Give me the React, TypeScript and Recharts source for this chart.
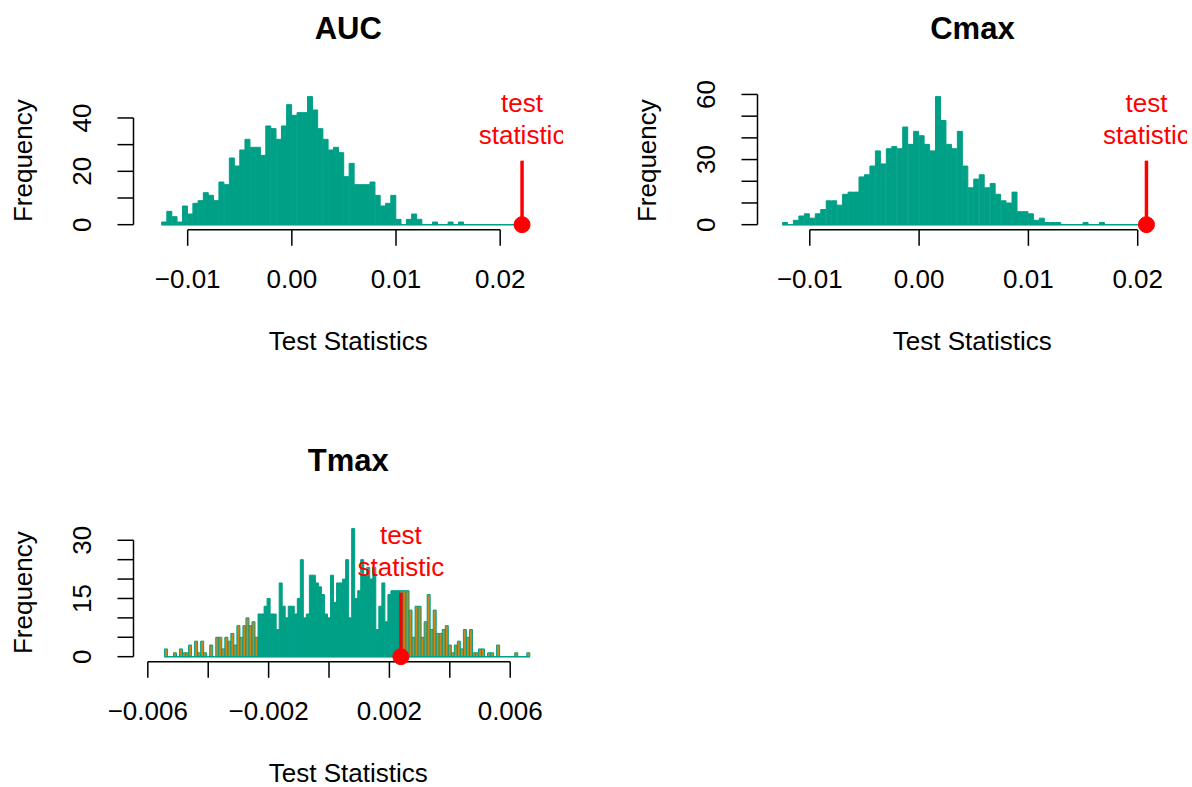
import React from 'react';
import { ComposedChart, Bar, Cell, XAxis, YAxis, ReferenceLine, ReferenceDot } from 'recharts';

const TEAL = '#00A087';
const ORANGE = '#C8861A';
const RED = '#FF0000';
const FONT = '"Liberation Sans", Arial, Helvetica, sans-serif';

// histogram counts, one per bin
const aucCounts = [
  1, 5, 3, 1, 7, 4, 8, 9, 12, 11,
  9, 16, 15, 25, 22, 28, 32, 29, 29, 26,
  37, 36, 32, 37, 45, 41, 42, 42, 48, 43,
  36, 32, 28, 29, 27, 18, 23, 15, 15, 15,
  16, 11, 7, 8, 11, 2, 0, 2, 4, 2,
  0, 0, 1, 0, 0, 1, 0, 1, 0, 0,
  0, 0, 0, 0, 0, 0, 0, 0, 0, 0,
];
const cmaxCounts = [
  1, 0, 2, 4, 5, 3, 5, 7, 11, 11,
  9, 14, 15, 15, 22, 23, 27, 34, 28, 35,
  36, 35, 45, 37, 43, 41, 37, 34, 59, 48,
  37, 35, 43, 27, 17, 21, 23, 17, 19, 14,
  11, 10, 15, 6, 6, 5, 2, 3, 1, 1,
  1, 0, 0, 0, 0, 1, 0, 0, 1, 0,
  0, 0, 0, 0, 0, 0, 0,
];
const tmaxCounts = [
  2, 0, 0, 1, 0, 2, 1, 1, 3, 0,
  4, 1, 4, 1, 0, 3, 0, 5, 5, 2,
  5, 4, 6, 3, 8, 5, 8, 10, 8, 9,
  5, 11, 11, 13, 15, 11, 11, 7, 19, 13,
  10, 13, 13, 11, 15, 25, 10, 11, 21, 21,
  19, 18, 16, 11, 10, 21, 14, 19, 19, 20,
  25, 10, 33, 15, 17, 25, 21, 23, 20, 23,
  7, 13, 19, 9, 16, 17, 17, 17, 17, 17,
  17, 12, 5, 13, 13, 5, 9, 16, 7, 12,
  6, 6, 7, 8, 3, 1, 3, 4, 2, 7,
  5, 7, 1, 1, 2, 2, 0, 1, 1, 0,
  3, 0, 0, 0, 0, 0, 1, 0, 0, 0, 1,
];

// first break and bin width of each histogram
const aucBreaks = { start: -0.0125, width: 0.0005 };
const cmaxBreaks = { start: -0.0125, width: 0.0005 };
const tmaxBreaks = { start: -0.00545, width: 0.0001 };

// observed test statistics
const aucStat = 0.0221;
const cmaxStat = 0.0208;
const tmaxStat = 0.00238;

const aucXTicks = [-0.01, 0, 0.01, 0.02];
const cmaxXTicks = [-0.01, 0, 0.01, 0.02];
const tmaxXTicks = [-0.006, -0.004, -0.002, 0, 0.002, 0.004, 0.006];
const tmaxXLabels = [-0.006, -0.002, 0.002, 0.006];

const aucYTicks = [0, 10, 20, 30, 40];
const aucYLabels = [0, 20, 40];
const cmaxYTicks = [0, 10, 20, 30, 40, 50, 60];
const cmaxYLabels = [0, 30, 60];
const tmaxYTicks = [0, 5, 10, 15, 20, 25, 30];
const tmaxYLabels = [0, 15, 30];

// panel geometry (R-like plot region)
const W = 600;
const H = 393;
const Y_W = 133.5;
const M_TOP = 91.5;
const M_RIGHT = 37;
const PLOT_W = W - Y_W - M_RIGHT;
const PLOT_H = 138.3;
const X_H = H - M_TOP - PLOT_H;
const PLOT_BOTTOM = M_TOP + PLOT_H;

const textStyle = { fontFamily: FONT, fontSize: 26, fill: '#000' };

const fmt = (v: number, digits: number) =>
  (v < 0 ? '\u2212' : '') + Math.abs(v).toFixed(digits);

const XCaption = () => (
  <text x={Y_W + PLOT_W / 2} y={PLOT_BOTTOM + 120.5} textAnchor="middle" style={textStyle}>
    Test Statistics
  </text>
);

const YCaption = () => {
  const x = Y_W - 101;
  const y = M_TOP + PLOT_H / 2;
  return (
    <text x={x} y={y} textAnchor="middle" transform={`rotate(-90, ${x}, ${y})`} style={textStyle}>
      Frequency
    </text>
  );
};

// "test statistic" note, clipped to the plot region like R's text()
const StatText = (props: any) => {
  const vb = props.viewBox || props;
  const x = vb.x + (vb.width || 0) / 2;
  const y = vb.y + (vb.height || 0) / 2;
  const id = `clip-${props.clipKey}`;
  return (
    <g>
      <defs>
        <clipPath id={id}>
          <rect x={Y_W} y={M_TOP} width={PLOT_W} height={PLOT_H} />
        </clipPath>
      </defs>
      <g clipPath={`url(#${id})`}>
        <text x={x} y={y - 10.5} textAnchor="middle" style={{ ...textStyle, fill: RED }}>test</text>
        <text x={x} y={y + 22} textAnchor="middle" style={{ ...textStyle, fill: RED }}>statistic</text>
      </g>
    </g>
  );
};

type PanelProps = {
  left: number;
  top: number;
  title: string;
  counts: number[];
  breaks: { start: number; width: number };
  stat: number;
  xDomain: [number, number];
  xTicks: number[];
  xLabels: number[];
  digits: number;
  yTicks: number[];
  yLabels: number[];
};

function Panel(p: PanelProps) {
  const data = p.counts.map((count, i) => {
    const mid = p.breaks.start + (i + 0.5) * p.breaks.width;
    return { mid, count, extreme: Math.abs(mid) >= p.stat };
  });
  const ymax = Math.max(...p.counts);
  const yDomain: [number, number] = [-0.04 * ymax, 1.04 * ymax];
  const histEnd = p.breaks.start + p.counts.length * p.breaks.width;

  const xTick = (t: any) =>
    p.xLabels.includes(t.payload.value) ? (
      <text x={t.x} y={PLOT_BOTTOM + 58} textAnchor="middle" style={textStyle}>
        {fmt(t.payload.value, p.digits)}
      </text>
    ) : (
      <g />
    );

  const yTick = (t: any) => {
    if (!p.yLabels.includes(t.payload.value)) return <g />;
    const x = Y_W - 42;
    return (
      <text x={x} y={t.y} textAnchor="middle" transform={`rotate(-90, ${x}, ${t.y})`} style={textStyle}>
        {t.payload.value}
      </text>
    );
  };

  return (
    <>
      <div
        style={{
          position: 'absolute',
          left: p.left + Y_W,
          top: p.top + 12.7,
          width: PLOT_W,
          textAlign: 'center',
          fontFamily: FONT,
          fontWeight: 'bold',
          fontSize: 31,
          lineHeight: '31px',
          color: '#000',
        }}
      >
        {p.title}
      </div>
      <div style={{ position: 'absolute', left: p.left, top: p.top, width: W, height: H }}>
        <ComposedChart
          width={W}
          height={H}
          data={data}
          margin={{ top: M_TOP, right: M_RIGHT, bottom: 0, left: 0 }}
          barCategoryGap={0}
          barGap={0}
        >
          <XAxis
            type="number"
            dataKey="mid"
            domain={p.xDomain}
            allowDataOverflow
            ticks={p.xTicks}
            interval={0}
            height={X_H}
            tickSize={16}
            axisLine={false}
            tickLine={{ stroke: '#000', strokeWidth: 1.5 }}
            tick={xTick}
            label={<XCaption />}
          />
          <YAxis
            type="number"
            domain={yDomain}
            allowDataOverflow
            ticks={p.yTicks}
            interval={0}
            width={Y_W}
            tickSize={16}
            axisLine={false}
            tickLine={{ stroke: '#000', strokeWidth: 1.5 }}
            tick={yTick}
            label={<YCaption />}
          />
          <Bar dataKey="count" isAnimationActive={false} stroke={TEAL} strokeWidth={1}>
            {data.map((d, i) => (
              <Cell key={i} fill={d.extreme ? ORANGE : TEAL} />
            ))}
          </Bar>
          <ReferenceLine
            segment={[{ x: p.breaks.start, y: 0 }, { x: histEnd, y: 0 }]}
            stroke={TEAL}
            strokeWidth={1.5}
            ifOverflow="visible"
          />
          <ReferenceLine
            segment={[{ x: p.xTicks[0], y: yDomain[0] }, { x: p.xTicks[p.xTicks.length - 1], y: yDomain[0] }]}
            stroke="#000"
            strokeWidth={1.5}
            ifOverflow="visible"
          />
          <ReferenceLine
            segment={[{ x: p.xDomain[0], y: 0 }, { x: p.xDomain[0], y: p.yTicks[p.yTicks.length - 1] }]}
            stroke="#000"
            strokeWidth={1.5}
            ifOverflow="visible"
          />
          <ReferenceLine
            segment={[{ x: p.stat, y: 0 }, { x: p.stat, y: ymax / 2 }]}
            stroke={RED}
            strokeWidth={3.5}
            ifOverflow="visible"
          />
          <ReferenceDot x={p.stat} y={0} r={8} fill={RED} stroke={RED} ifOverflow="visible" />
          <ReferenceDot
            x={p.stat}
            y={0.8 * ymax}
            r={0}
            fill="none"
            stroke="none"
            ifOverflow="visible"
            label={<StatText clipKey={p.title} />}
          />
        </ComposedChart>
      </div>
    </>
  );
}

export default function App() {
  return (
    <div
      style={{
        position: 'absolute',
        left: 0,
        top: 0,
        width: 1192,
        height: 787,
        overflow: 'hidden',
        background: '#fff',
      }}
    >
      <Panel
        left={0}
        top={0}
        title="AUC"
        counts={aucCounts}
        breaks={aucBreaks}
        stat={aucStat}
        xDomain={[-0.0152, 0.02603]}
        xTicks={aucXTicks}
        xLabels={aucXTicks}
        digits={2}
        yTicks={aucYTicks}
        yLabels={aucYLabels}
      />
      <Panel
        left={624.2}
        top={0}
        title="Cmax"
        counts={cmaxCounts}
        breaks={cmaxBreaks}
        stat={cmaxStat}
        xDomain={[-0.014785, 0.02451]}
        xTicks={cmaxXTicks}
        xLabels={cmaxXTicks}
        digits={2}
        yTicks={cmaxYTicks}
        yLabels={cmaxYLabels}
      />
      <Panel
        left={0}
        top={432.3}
        title="Tmax"
        counts={tmaxCounts}
        breaks={tmaxBreaks}
        stat={tmaxStat}
        xDomain={[-0.006474, 0.007748]}
        xTicks={tmaxXTicks}
        xLabels={tmaxXLabels}
        digits={3}
        yTicks={tmaxYTicks}
        yLabels={tmaxYLabels}
      />
    </div>
  );
}
